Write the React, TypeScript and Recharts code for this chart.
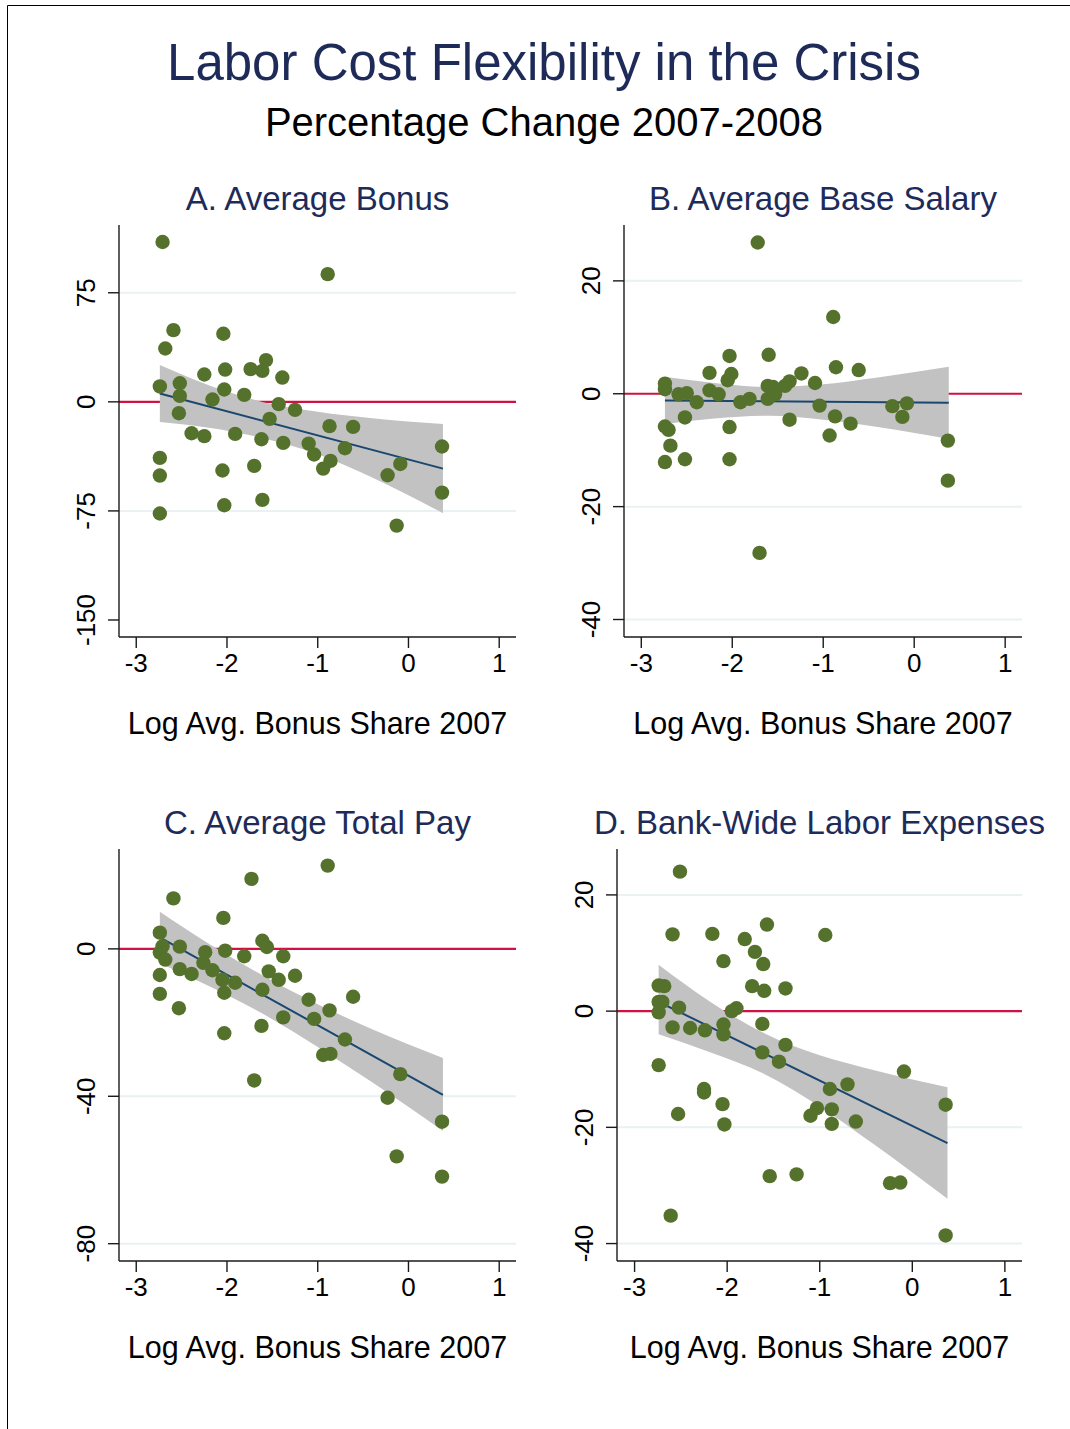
import React from 'react';
import { ComposedChart, Scatter, Line, Area, XAxis, YAxis, ReferenceLine } from 'recharts';

// x = log avg. bonus share 2007, y = % change 2007-2008
const bonusX = [-2.71, -0.89, -2.59, -2.04, -2.68, -1.57, -1.74, -1.61, -2.02, -2.25, -1.39, -2.74, -2.52, -2.03, -2.52, -1.81, -2.16, -1.43, -1.25, -2.53, -1.53, -0.87, -0.61, -2.39, -2.25, -1.91, -1.62, -1.38, -1.10, 0.37, -1.04, -0.70, -2.74, -1.70, -0.86, -0.94, -0.09, -2.05, -2.74, -0.23, 0.37, -1.61, -2.03, -2.74, -0.13];
const bonusY = [109.9, 87.8, 49.3, 46.8, 36.7, 28.7, 22.5, 21.3, 22.2, 18.8, 16.7, 10.6, 12.8, 8.5, 4.1, 4.8, 1.6, -1.6, -5.5, -7.8, -11.7, -16.7, -17.2, -21.6, -23.6, -22.0, -25.7, -28.2, -28.7, -30.7, -36.2, -31.9, -38.5, -44.0, -40.6, -45.9, -42.7, -47.2, -50.7, -50.5, -62.4, -67.4, -71.1, -76.8, -85.1];

const baseX = [-1.72, -0.89, -2.03, -1.60, -0.86, -0.61, -2.25, -2.01, -1.24, -2.05, -1.37, -1.09, -2.74, -2.74, -1.61, -1.55, -1.42, -2.25, -2.59, -2.50, -2.15, -1.53, -2.39, -1.91, -1.81, -1.61, -1.04, -0.24, -0.08, -2.52, -1.37, -0.87, -0.13, -0.70, -2.74, -2.70, -2.03, -0.93, -2.68, 0.37, -2.74, -2.52, -2.03, 0.37, -1.70];
const baseY = [26.8, 13.6, 6.7, 6.9, 4.7, 4.2, 3.7, 3.5, 3.6, 2.4, 2.2, 1.9, 1.8, 0.8, 1.4, 1.2, 1.4, 0.6, -0.1, 0.1, -0.1, -0.1, -1.5, -1.5, -0.9, -0.9, -2.1, -2.2, -1.7, -4.2, -4.6, -4.0, -4.1, -5.3, -5.8, -6.4, -5.9, -7.4, -9.2, -8.3, -12.1, -11.6, -11.6, -15.4, -28.2];

const totalX = [-0.89, -1.73, -2.59, -2.04, -2.74, -1.61, -1.56, -2.71, -2.52, -2.02, -2.24, -2.74, -1.81, -1.38, -2.68, -2.26, -2.52, -2.16, -1.54, -2.39, -2.74, -1.25, -2.05, -1.43, -1.91, -1.61, -2.03, -2.74, -0.61, -1.10, -2.53, -0.87, -1.38, -1.04, -1.62, -2.03, -0.70, -0.94, -0.86, -0.09, -1.70, -0.23, 0.37, -0.13, 0.37];
const totalY = [22.6, 19.0, 13.7, 8.4, 4.4, 2.2, 0.5, 0.7, 0.6, -0.5, -0.9, -1.0, -2.0, -2.0, -2.9, -3.8, -5.5, -5.8, -6.1, -6.8, -7.1, -7.3, -8.4, -8.4, -9.2, -11.1, -11.9, -12.2, -13.0, -13.8, -16.1, -16.7, -18.6, -19.0, -20.9, -22.9, -24.6, -28.8, -28.5, -34.0, -35.7, -40.4, -46.9, -56.3, -61.8];

const laborX = [-2.51, -1.57, -2.59, -2.16, -0.94, -1.81, -1.70, -2.04, -1.61, -1.73, -2.74, -2.68, -1.37, -1.60, -2.74, -2.70, -2.52, -1.90, -1.95, -2.74, -1.62, -2.04, -2.59, -2.40, -2.24, -2.04, -1.37, -1.62, -1.44, -2.74, -0.09, -0.70, -0.89, -2.25, -2.25, 0.36, -2.05, -1.03, -0.87, -1.10, -2.53, -0.61, -0.87, -2.03, -1.25, -1.54, -0.24, -0.13, -2.61, 0.36];
const laborY = [24.0, 14.9, 13.2, 13.3, 13.1, 12.4, 10.2, 8.6, 8.1, 4.3, 4.4, 4.3, 3.9, 3.5, 1.6, 1.6, 0.6, 0.5, 0.0, -0.2, -2.2, -2.3, -2.8, -2.9, -3.3, -4.0, -5.8, -7.1, -8.7, -9.3, -10.4, -12.6, -13.4, -13.4, -14.0, -16.1, -16.0, -16.7, -16.9, -18.0, -17.7, -19.0, -19.4, -19.5, -28.1, -28.4, -29.6, -29.5, -35.2, -38.6];

// linear fit and 95% band, read at a few points
const fitX = [-2.74, 0.38];
const bonusFit = [5.7, -45.9];
const baseFit = [-1.2, -1.6];
const totalFit = [3.1, -39.6];
const laborFit = [1.6, -22.7];

const bandX = [-2.74, -2.2, -1.6, -1.0, -0.4, 0.38];
const bonusLo = [-13.9, -17.8, -25.0, -36.0, -52.0, -76.6];
const bonusHi = [25.3, 11.4, -0.2, -6.8, -11.3, -15.3];
const baseLo = [-5.4, -4.4, -3.9, -4.6, -5.9, -8.0];
const baseHi = [3.0, 1.9, 1.2, 1.7, 2.9, 4.8];
const totalLo = [-3.9, -10.1, -17.7, -26.6, -36.2, -49.4];
const totalHi = [10.1, 1.4, -7.3, -15.0, -21.8, -29.6];
const laborLo = [-4.0, -7.0, -10.8, -16.4, -23.1, -32.3];
const laborHi = [8.0, 1.8, -3.8, -7.6, -10.2, -13.1];

const xTicks = [-3, -2, -1, 0, 1];

const FONT = "'Liberation Sans', Arial, Helvetica, sans-serif";
const NAVY = '#1e2b59';
const GREEN = '#55722c';
const FITC = '#1a476f';
const RED = '#cf1144';
const GRID = '#e9f1f3';
const AXIS = '#1a1a1a';

type PanelProps = {
  left: number;
  top: number;
  width: number;
  height: number;
  xs: number[];
  ys: number[];
  fit: number[];
  lo: number[];
  hi: number[];
  domain: [number, number];
  ticks: number[];
  grid: number[];
};

const XTick = (props: any) => (
  <text x={props.x} y={props.y + 22} textAnchor="middle" fontFamily={FONT} fontSize={26} fill="#000">
    {String(props.payload.value)}
  </text>
);

const YTick = (props: any) => (
  <text
    transform={`translate(${props.x - 20},${props.y}) rotate(-90)`}
    textAnchor="middle"
    dy="0.36em"
    fontFamily={FONT}
    fontSize={26}
    fill="#000"
  >
    {String(props.payload.value)}
  </text>
);

const Panel = ({ left, top, width, height, xs, ys, fit, lo, hi, domain, ticks, grid }: PanelProps) => {
  const points = xs.map((x, i) => ({ x, y: ys[i] }));
  const fitLine = fitX.map((x, i) => ({ x, y: fit[i] }));
  const band = bandX.map((x, i) => ({ x, band: [lo[i], hi[i]] }));
  return (
    <div style={{ position: 'absolute', left: left - 70, top: top - 10 }}>
      <ComposedChart width={width + 80} height={height + 70} margin={{ top: 10, right: 10, left: 0, bottom: 0 }}>
        <XAxis
          dataKey="x"
          type="number"
          domain={[-3.19, 1.185]}
          ticks={xTicks}
          allowDataOverflow
          tickSize={11}
          tickMargin={2}
          height={60}
          tick={XTick}
          axisLine={{ stroke: AXIS, strokeWidth: 1.4 }}
          tickLine={{ stroke: AXIS, strokeWidth: 1.4 }}
        />
        <YAxis
          dataKey="y"
          type="number"
          domain={domain}
          ticks={ticks}
          allowDataOverflow
          width={70}
          tickSize={11}
          tickMargin={2}
          tick={YTick}
          axisLine={{ stroke: AXIS, strokeWidth: 1.4 }}
          tickLine={{ stroke: AXIS, strokeWidth: 1.4 }}
        />
        {grid.map((g) => (
          <ReferenceLine key={g} y={g} stroke={GRID} strokeWidth={2} zIndex={-20} />
        ))}
        <ReferenceLine y={0} stroke={RED} strokeWidth={2.2} zIndex={-10} />
        <Area
          data={band}
          dataKey="band"
          type="monotone"
          stroke="none"
          fill="#c2c2c2"
          fillOpacity={1}
          isAnimationActive={false}
          activeDot={false}
        />
        <Line
          data={fitLine}
          dataKey="y"
          type="linear"
          stroke={FITC}
          strokeWidth={2}
          dot={false}
          activeDot={false}
          isAnimationActive={false}
        />
        <Scatter
          data={points}
          isAnimationActive={false}
          shape={(p: any) => <circle cx={p.cx} cy={p.cy} r={7.2} fill={GREEN} />}
        />
      </ComposedChart>
    </div>
  );
};

const App = () => {
  const axisTitle = 'Log Avg. Bonus Share 2007';
  return (
    <div style={{ position: 'absolute', left: 0, top: 0, width: 1070, height: 1429, background: '#fff', overflow: 'hidden' }}>
      <Panel left={119} top={225} width={397} height={412} xs={bonusX} ys={bonusY} fit={bonusFit} lo={bonusLo} hi={bonusHi} domain={[-161.7, 121.6]} ticks={[-150, -75, 0, 75]} grid={[75, -75]} />
      <Panel left={624} top={225} width={398} height={412} xs={baseX} ys={baseY} fit={baseFit} lo={baseLo} hi={baseHi} domain={[-43.1, 29.9]} ticks={[-40, -20, 0, 20]} grid={[20, -20, -40]} />
      <Panel left={119} top={849} width={397} height={412} xs={totalX} ys={totalY} fit={totalFit} lo={totalLo} hi={totalHi} domain={[-84.7, 27.1]} ticks={[-80, -40, 0]} grid={[-40, -80]} />
      <Panel left={617} top={849} width={405} height={412} xs={laborX} ys={laborY} fit={laborFit} lo={laborLo} hi={laborHi} domain={[-43, 27.9]} ticks={[-40, -20, 0, 20]} grid={[20, -20, -40]} />
      <svg width={1070} height={1429} style={{ position: 'absolute', left: 0, top: 0, pointerEvents: 'none' }} fontFamily={FONT}>
        <path d="M7.5,1429 L7.5,5.5 L1070,5.5" fill="none" stroke="#000" strokeWidth={1} />
        <text x={544} y={80} textAnchor="middle" fontSize={51} fill={NAVY}>Labor Cost Flexibility in the Crisis</text>
        <text x={544} y={136} textAnchor="middle" fontSize={40} fill="#000">Percentage Change 2007-2008</text>
        <text x={317.5} y={210} textAnchor="middle" fontSize={33} fill={NAVY}>A. Average Bonus</text>
        <text x={823} y={210} textAnchor="middle" fontSize={33} fill={NAVY}>B. Average Base Salary</text>
        <text x={317.5} y={834} textAnchor="middle" fontSize={33} fill={NAVY}>C. Average Total Pay</text>
        <text x={819.5} y={834} textAnchor="middle" fontSize={33} fill={NAVY}>D. Bank-Wide Labor Expenses</text>
        <text x={317.5} y={734} textAnchor="middle" fontSize={30.5} fill="#000">{axisTitle}</text>
        <text x={823} y={734} textAnchor="middle" fontSize={30.5} fill="#000">{axisTitle}</text>
        <text x={317.5} y={1358} textAnchor="middle" fontSize={30.5} fill="#000">{axisTitle}</text>
        <text x={819.5} y={1358} textAnchor="middle" fontSize={30.5} fill="#000">{axisTitle}</text>
      </svg>
    </div>
  );
};

export default App;
